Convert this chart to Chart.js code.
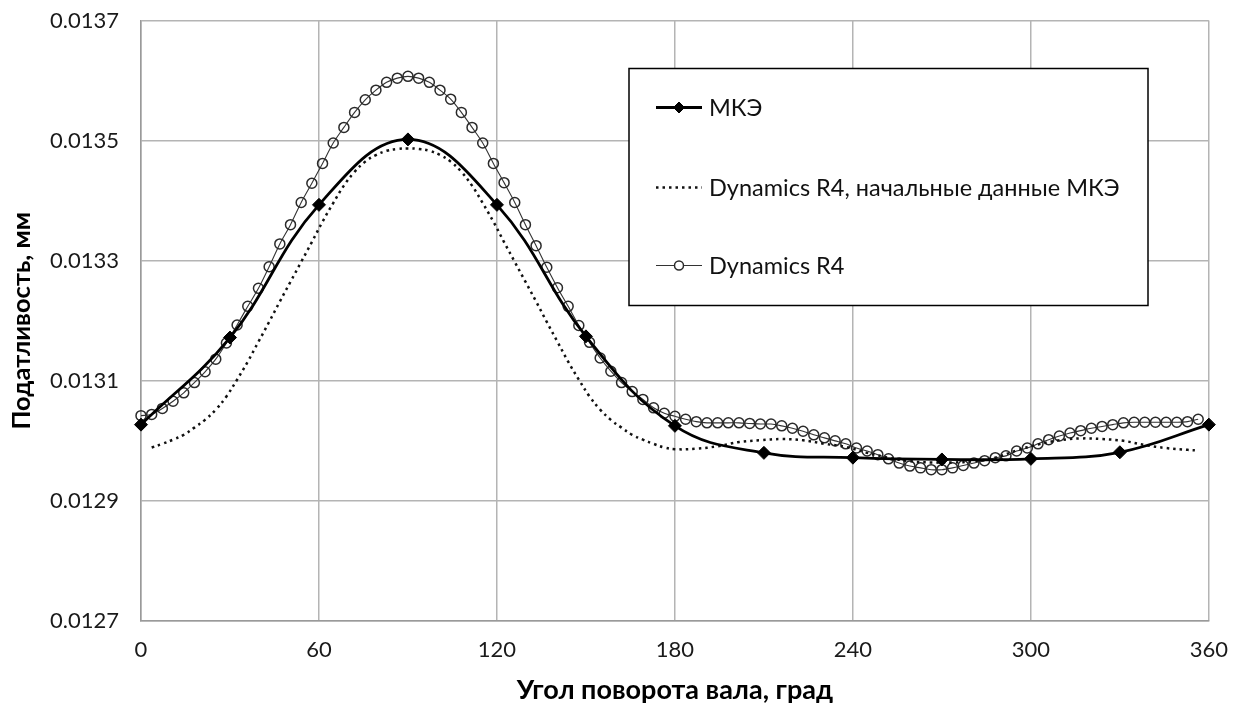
<!DOCTYPE html>
<html lang="ru">
<head>
<meta charset="utf-8">
<title>Податливость вала</title>
<script src="https://cdn.jsdelivr.net/npm/chart.js@4.4.1/dist/chart.umd.min.js"></script>
<style>
    html, body { margin: 0; padding: 0; background: #fff; }
    #wrap { width: 1244px; height: 709px; }
</style>
</head>
<body>
<div id="wrap"><canvas id="chart" width="1244" height="709"></canvas></div>
<script>
// ==========================================
// данные: угол поворота (град) -> податливость (мм)
// ==========================================
const mkeAngles = [0, 30, 60, 90, 120, 150, 180, 210, 240, 270, 300, 330, 360];
const mkeValues = [0.013027, 0.013172, 0.013393, 0.013502, 0.013393, 0.013174, 0.013025,
    0.012980, 0.012972, 0.012969, 0.012970, 0.012981, 0.013027];

const dotAngles = [3.6, 7.2, 10.8, 14.4, 18, 21.6, 25.2, 28.8, 32.4, 36, 39.6, 43.2, 46.8, 50.4, 54, 57.6,
    61.2, 64.8, 68.4, 72, 75.6, 79.2, 82.8, 86.4, 90, 93.6, 97.2, 100.8, 104.4, 108, 111.6, 115.2,
    118.8, 122.4, 126, 129.6, 133.2, 136.8, 140.4, 144, 147.6, 151.2, 154.8, 158.4, 162, 165.6, 169.2,
    172.8, 176.4, 180, 187.2, 194.4, 201.6, 208.8, 216, 223.2, 230.4, 237.6, 244.8, 252, 259.2, 266.4,
    273.6, 280.8, 288, 295.2, 302.4, 309.6, 316.8, 324, 331.2, 338.4, 345.6, 352.8, 356.4];
const dotValues = [0.012989, 0.012995, 0.013002, 0.013010, 0.013022, 0.013035, 0.013052, 0.013074,
    0.013102, 0.013132, 0.013165, 0.013198, 0.013232, 0.013265, 0.013298, 0.013331, 0.013365, 0.013396,
    0.013425, 0.013448, 0.013465, 0.013476, 0.013483, 0.013486, 0.013487, 0.013486, 0.013483, 0.013476,
    0.013465, 0.013448, 0.013425, 0.013396, 0.013365, 0.013331, 0.013298, 0.013265, 0.013232, 0.013198,
    0.013165, 0.013132, 0.013102, 0.013074, 0.013052, 0.013035, 0.013022, 0.013010, 0.013002, 0.012995,
    0.012989, 0.012986, 0.012987, 0.012991, 0.012998, 0.013001, 0.013003, 0.013001, 0.012995, 0.012990,
    0.012980, 0.012972, 0.012966, 0.012964, 0.012964, 0.012966, 0.012972, 0.012984, 0.012994, 0.013001,
    0.013004, 0.013003, 0.013000, 0.012993, 0.012988, 0.012985, 0.012984];

const r4Angles = [0, 3.6, 7.2, 10.8, 14.4, 18, 21.6, 25.2, 28.8, 32.4, 36, 39.6, 43.2, 46.8, 50.4, 54,
    57.6, 61.2, 64.8, 68.4, 72, 75.6, 79.2, 82.8, 86.4, 90, 93.6, 97.2, 100.8, 104.4, 108, 111.6, 115.2,
    118.8, 122.4, 126, 129.6, 133.2, 136.8, 140.4, 144, 147.6, 151.2, 154.8, 158.4, 162, 165.6, 169.2,
    172.8, 176.4, 180, 183.6, 187.2, 190.8, 194.4, 198, 201.6, 205.2, 208.8, 212.4, 216, 219.6, 223.2,
    226.8, 230.4, 234, 237.6, 241.2, 244.8, 248.4, 252, 255.6, 259.2, 262.8, 266.4, 270, 273.6, 277.2,
    280.8, 284.4, 288, 291.6, 295.2, 298.8, 302.4, 306, 309.6, 313.2, 316.8, 320.4, 324, 327.6, 331.2,
    334.8, 338.4, 342, 345.6, 349.2, 352.8, 356.4];
const r4Values = [0.013042, 0.013044, 0.013054, 0.013066, 0.013080, 0.013097, 0.013115, 0.013136,
    0.013163, 0.013193, 0.013224, 0.013254, 0.013290, 0.013328, 0.013360, 0.013397, 0.013429, 0.013462,
    0.013496, 0.013522, 0.013547, 0.013568, 0.013584, 0.013597, 0.013604, 0.013607, 0.013604, 0.013597,
    0.013584, 0.013569, 0.013547, 0.013522, 0.013496, 0.013462, 0.013430, 0.013397, 0.013360, 0.013325,
    0.013289, 0.013255, 0.013224, 0.013192, 0.013164, 0.013138, 0.013116, 0.013097, 0.013082, 0.013069,
    0.013055, 0.013046, 0.013041, 0.013036, 0.013032, 0.013030, 0.013030, 0.013030, 0.013030, 0.013029,
    0.013028, 0.013028, 0.013025, 0.013021, 0.013016, 0.013010, 0.013005, 0.013000, 0.012995, 0.012988,
    0.012983, 0.012977, 0.012970, 0.012963, 0.012958, 0.012955, 0.012952, 0.012952, 0.012955, 0.012959,
    0.012963, 0.012967, 0.012972, 0.012975, 0.012983, 0.012988, 0.012995, 0.013002, 0.013008, 0.013013,
    0.013017, 0.013021, 0.013024, 0.013027, 0.013030, 0.013031, 0.013031, 0.013031, 0.013031, 0.013031,
    0.013032, 0.013036];

const xTicks = [0, 60, 120, 180, 240, 300, 360];
const yTicks = [0.0127, 0.0129, 0.0131, 0.0133, 0.0135, 0.0137];

const FONT = 'Lato, "Noto Sans", sans-serif';
const GRID = '#b4b4b4';

const pairs = (xs, ys) => xs.map((x, i) => ({ x: x, y: ys[i] }));

// ==========================================
// легенда в рамке внутри области графика
// ==========================================
const boxLegend = {
    id: 'boxLegend',
    afterDraw(chart) {
        const { ctx, chartArea } = chart;
        const x0 = chartArea.left + 488, y0 = chartArea.top + 48;
        const w = 519, h = 237;
        const rows = [y0 + 39, y0 + 119, y0 + 197];

        ctx.save();
        ctx.fillStyle = '#fff';
        ctx.fillRect(x0, y0, w, h);
        ctx.strokeStyle = '#000';
        ctx.lineWidth = 1.5;
        ctx.strokeRect(x0, y0, w, h);

        chart.data.datasets.forEach((ds, i) => {
            const y = rows[i];
            const sx = x0 + 27, ex = x0 + 73;
            ctx.beginPath();
            ctx.setLineDash(ds.borderDash || []);
            ctx.lineWidth = ds.borderWidth;
            ctx.strokeStyle = ds.borderColor;
            ctx.moveTo(sx, y);
            ctx.lineTo(ex, y);
            ctx.stroke();
            ctx.setLineDash([]);

            if (ds.pointRadius > 0) {
                ctx.fillStyle = ds.pointStyle === 'circle' ? '#fff' : ds.pointBackgroundColor;
                ctx.strokeStyle = ds.pointBorderColor;
                ctx.lineWidth = ds.pointBorderWidth;
                Chart.helpers.drawPoint(ctx, {
                    pointStyle: ds.pointStyle,
                    radius: ds.pointStyle === 'circle' ? 4.5 : 5.5,
                    borderWidth: ds.pointBorderWidth,
                    rotation: 0
                }, (sx + ex) / 2, y);
            }

            ctx.fillStyle = '#111';
            ctx.font = '23.5px ' + FONT;
            ctx.textBaseline = 'middle';
            ctx.textAlign = 'left';
            ctx.fillText(ds.label, x0 + 80, y + 1);
        });
        ctx.restore();
    }
};

new Chart(document.getElementById('chart').getContext('2d'), {
    type: 'line',
    data: {
        datasets: [
            {
                label: 'МКЭ',
                data: pairs(mkeAngles, mkeValues),
                borderColor: '#000',
                borderWidth: 2.8,
                pointStyle: 'rectRot',
                pointRadius: 6.5,
                pointBackgroundColor: '#000',
                pointBorderColor: '#000',
                pointBorderWidth: 1,
                tension: 0.4,
                clip: false
            },
            {
                label: 'Dynamics R4, начальные данные МКЭ',
                data: pairs(dotAngles, dotValues),
                borderColor: '#111',
                borderWidth: 2.5,
                borderDash: [2.5, 4],
                pointRadius: 0,
                tension: 0.4,
                clip: false
            },
            {
                label: 'Dynamics R4',
                data: pairs(r4Angles, r4Values),
                borderColor: '#333',
                borderWidth: 1.1,
                pointStyle: 'circle',
                pointRadius: 5,
                pointBorderWidth: 1.5,
                pointBorderColor: '#2a2a2a',
                pointBackgroundColor: 'rgba(255,255,255,0)',
                tension: 0.3,
                clip: false
            }
        ]
    },
    options: {
        responsive: false,
        animation: false,
        layout: { padding: { top: 20.5, right: 35, left: 0, bottom: 0 } },
        plugins: { legend: { display: false }, tooltip: { enabled: false } },
        scales: {
            x: {
                type: 'linear',
                min: 0, max: 360,
                afterBuildTicks: s => { s.ticks = xTicks.map(v => ({ value: v })); },
                afterFit: s => { s.height = 88; },
                grid: { color: GRID, lineWidth: 1.5, drawTicks: false },
                border: { color: '#9a9a9a', width: 1.5 },
                ticks: { padding: 16, color: '#1a1a1a', font: { family: FONT, size: 22 }, maxRotation: 0 },
                title: {
                    display: true, text: 'Угол поворота вала, град', color: '#000',
                    font: { family: FONT, size: 27, weight: 'bold' }, padding: { bottom: 3 }
                }
            },
            y: {
                min: 0.0127, max: 0.0137,
                afterBuildTicks: s => { s.ticks = yTicks.map(v => ({ value: v })); },
                afterFit: s => { s.width = 141; },
                // отступ подписей задаём длиной невидимых засечек
                grid: { color: GRID, lineWidth: 1.5, drawTicks: true, tickLength: 22, tickColor: 'rgba(0,0,0,0)' },
                border: { color: '#9a9a9a', width: 1.5 },
                ticks: {
                    padding: 0, color: '#1a1a1a', font: { family: FONT, size: 22 },
                    callback: v => v.toFixed(4)
                },
                title: {
                    display: true, text: 'Податливость, мм', color: '#000',
                    font: { family: FONT, size: 25.5, weight: 'bold' }, padding: { top: 6 }
                }
            }
        }
    },
    plugins: [boxLegend]
});
</script>
</body>
</html>
